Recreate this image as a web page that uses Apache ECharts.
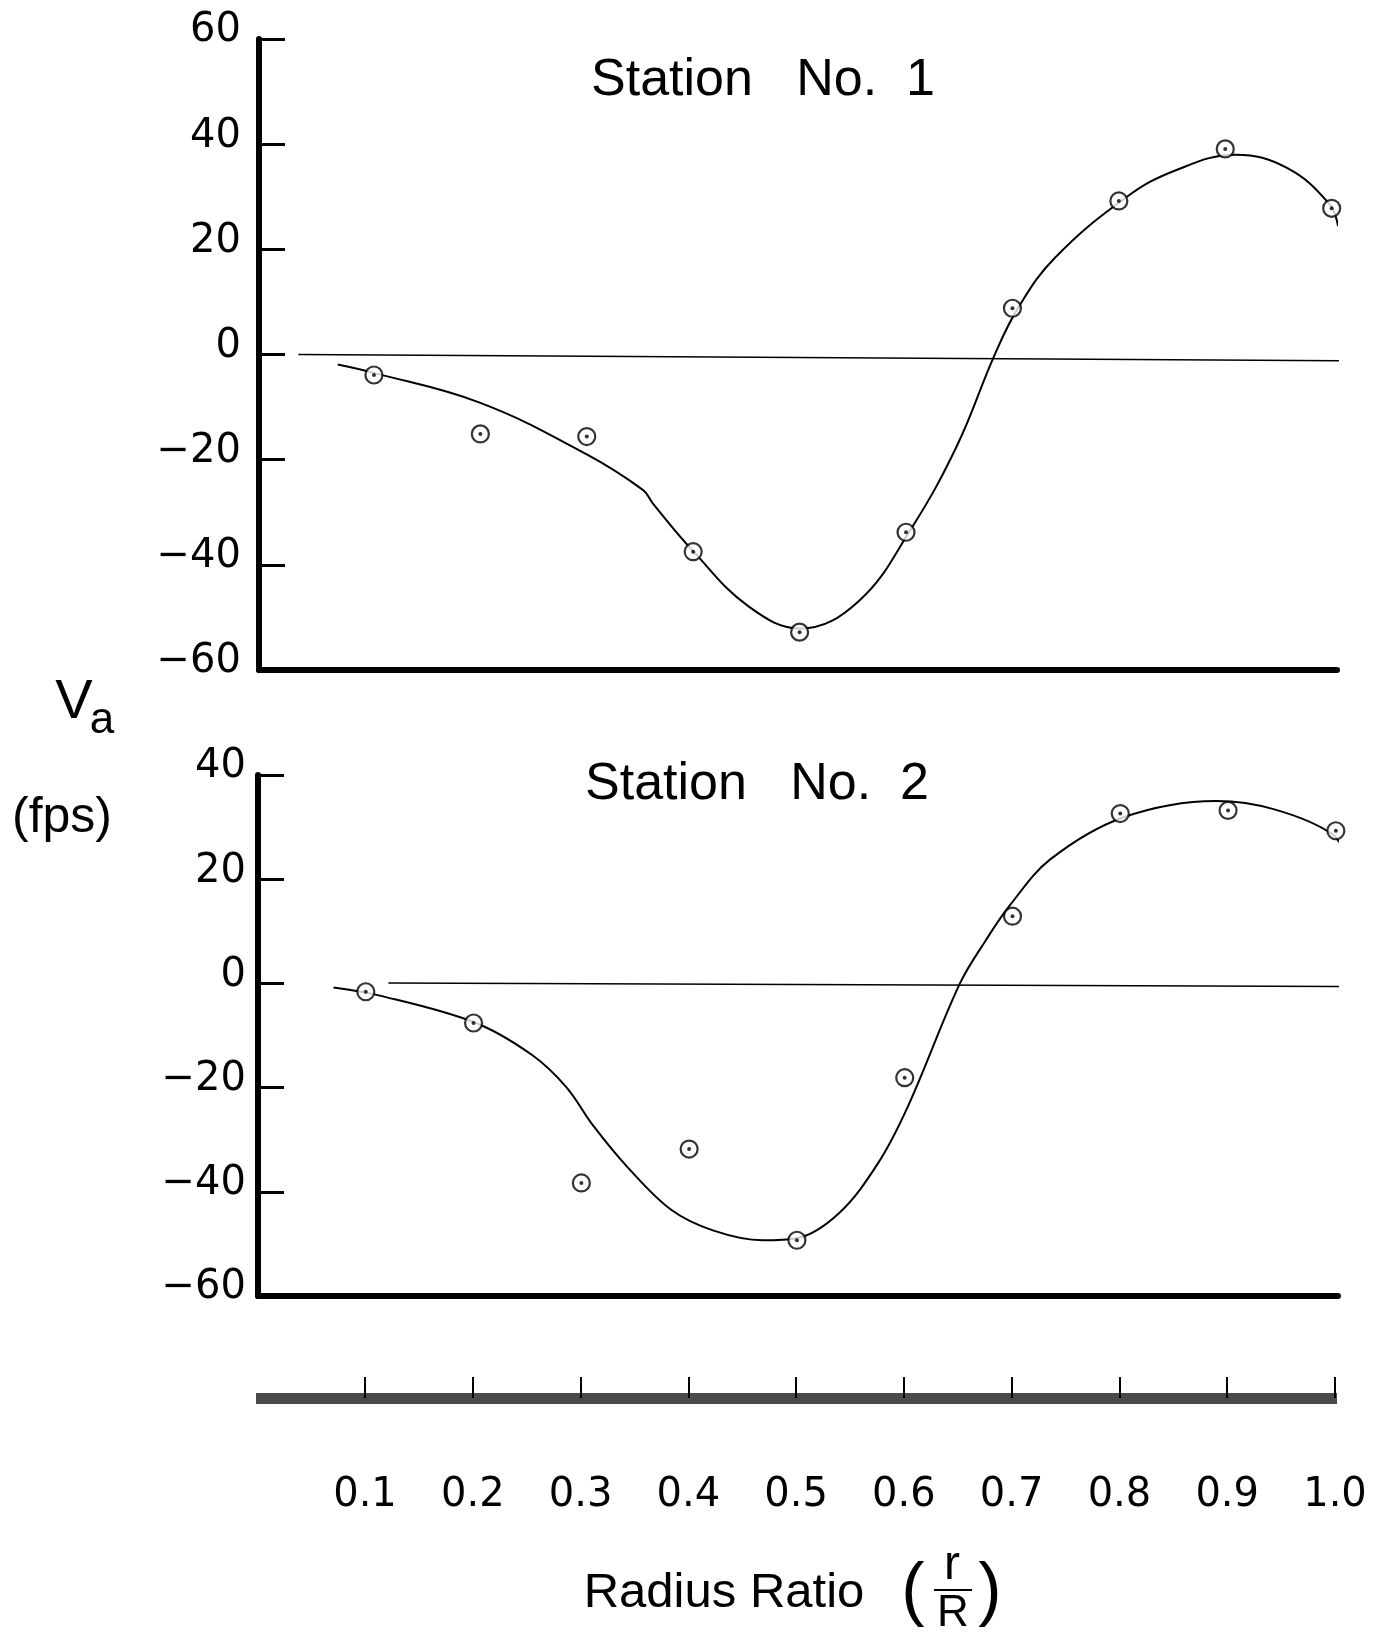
<!DOCTYPE html>
<html>
<head>
<meta charset="utf-8">
<title>Va - Radius Ratio</title>
<script src="https://cdn.jsdelivr.net/npm/echarts@6/dist/echarts.min.js"></script>
<style>
body { margin: 0; background: #fff; }
#Main { width: 1380px; height: 1632px; }
</style>
</head>
<body>
<div id="Main"></div>
<script>
// 半径比 r/R
var radius = [0.1, 0.2, 0.3, 0.4, 0.5, 0.6, 0.7, 0.8, 0.9, 1.0];
// 测点 Va (fps)
var station1 = [-3.9, -15.1, -15.6, -37.5, -52.8, -33.8, 8.8, 29.2, 39.1, 27.8];
var station2 = [-1.6, -7.6, -38.3, -31.8, -49.3, -18.1, 12.9, 32.6, 33.2, 29.3];
// 手绘曲线
var curve1X = [0.066, 0.1, 0.2, 0.3, 0.353, 0.362, 0.4, 0.452, 0.501, 0.555, 0.604, 0.648, 0.683, 0.706, 0.74, 0.807, 0.853, 0.91, 0.958, 0.998, 1.006];
var curve1Y = [-1.9, -3.5, -9.2, -19, -25.8, -28.3, -37.4, -47.9, -52.1, -47, -33.4, -17.3, -0.2, 9.1, 18.4, 29.9, 35.0, 38.0, 35.5, 28.6, 24.4];
var curve2X = [0.070, 0.112, 0.201, 0.254, 0.286, 0.311, 0.343, 0.383, 0.422, 0.468, 0.500, 0.539, 0.575, 0.603, 0.651, 0.675, 0.698, 0.735, 0.802, 0.889, 0.943, 0.997, 1.012];
var curve2Y = [-0.8, -2.3, -7.5, -13.7, -19.9, -27.3, -35.3, -43.4, -47.4, -49.3, -48.9, -44.1, -34.6, -23.6, -0.1, 8.2, 15.1, 23.8, 31.8, 35.0, 33.4, 28.6, 23.5];
// 零线
var zero1X = [0.029, 1.008];
var zero1Y = [0, -1.2];
var zero2X = [0.121, 1.003];
var zero2Y = [0.1, -0.6];
// 刻度标签
var xTickLabels = ['0.1', '0.2', '0.3', '0.4', '0.5', '0.6', '0.7', '0.8', '0.9', '1.0'];

function pairs(xs, ys) {
	var out = [];
	for (var i = 0; i < xs.length; i++) {
		out.push([xs[i], ys[i]]);
	}
	return out;
}

function yLabel(v) {
	return v < 0 ? '\u2212' + (-v) : '' + v;
}

var font = '"Liberation Sans", Arial, sans-serif';
var black = '#000';

function valueX(grid, min, max) {
	return {
		gridIndex: grid, type: 'value', min: min, max: max,
		axisLine: { onZero: false, lineStyle: { color: black, width: 6 } },
		axisTick: { show: false }, axisLabel: { show: false }, splitLine: { show: false }
	};
}

function valueY(grid, min, max, margin) {
	return {
		gridIndex: grid, type: 'value', min: min, max: max, interval: 20,
		axisLine: { show: true, onZero: false, lineStyle: { color: black, width: 6 } },
		axisTick: { show: true, inside: true, length: 26, lineStyle: { color: black, width: 3 } },
		axisLabel: {
			margin: margin, fontSize: 40, fontFamily: '"DejaVu Sans", sans-serif', color: black,
			verticalAlign: 'bottom', lineHeight: 16, formatter: yLabel
		},
		splitLine: { show: false }
	};
}

function markSeries(x, y, idx) {
	var data = pairs(x, y);
	return [{
		type: 'scatter', xAxisIndex: idx, yAxisIndex: idx, data: data, z: 3,
		symbol: 'circle', symbolSize: 17,
		itemStyle: { color: '#fff', borderColor: black, borderWidth: 2.2 }
	}, {
		type: 'scatter', xAxisIndex: idx, yAxisIndex: idx, data: data, z: 4,
		symbol: 'circle', symbolSize: 4, itemStyle: { color: black }
	}];
}

function lineSeries(x, y, idx, w, smooth) {
	return {
		type: 'line', xAxisIndex: idx, yAxisIndex: idx, data: pairs(x, y),
		symbol: 'none', smooth: smooth, clip: false, z: 2,
		lineStyle: { color: black, width: w }
	};
}

var myChart = echarts.init(document.getElementById('Main'));
myChart.setOption({
	backgroundColor: '#fff',
	animation: false,
	grid: [
		{ left: 259, right: 43, top: 39, height: 631 },
		{ left: 258, right: 42, top: 775, height: 521 },
		{ left: 256, right: 43, top: 1300, height: 98 },
		{ left: 365, right: 45, top: 1300, height: 98 }
	],
	xAxis: [
		valueX(0, -0.008, 1.005),
		valueX(1, 0, 1.002),
		{
			gridIndex: 2, type: 'value', min: 0, max: 1.002,
			axisLine: { lineStyle: { color: '#4a4a4a', width: 11, cap: 'butt' } },
			axisTick: { show: false }, axisLabel: { show: false }, splitLine: { show: false }
		},
		{
			gridIndex: 3, type: 'category', data: xTickLabels, boundaryGap: false,
			axisLine: { show: false },
			axisTick: { inside: true, length: 21, interval: 0, lineStyle: { color: black, width: 2 } },
			axisLabel: { interval: 0, margin: 78, fontSize: 40, fontFamily: '"DejaVu Sans", sans-serif', color: black },
			splitLine: { show: false }
		}
	],
	yAxis: [
		valueY(0, -60, 60, 18),
		valueY(1, -60, 40, 12),
		{ gridIndex: 2, type: 'value', show: false },
		{ gridIndex: 3, type: 'value', show: false }
	],
	series: [
		lineSeries(zero1X, zero1Y, 0, 1.5, false),
		lineSeries(curve1X, curve1Y, 0, 2, 0.4),
		lineSeries(zero2X, zero2Y, 1, 1.5, false),
		lineSeries(curve2X, curve2Y, 1, 2, 0.35)
	].concat(markSeries(radius, station1, 0), markSeries(radius, station2, 1)),
	graphic: [
		{ type: 'text', x: 763, y: 81, style: { text: 'Station   No.  1', font: '52px ' + font, fill: black, align: 'center', verticalAlign: 'middle' } },
		{ type: 'text', x: 757, y: 785, style: { text: 'Station   No.  2', font: '52px ' + font, fill: black, align: 'center', verticalAlign: 'middle' } },
		{ type: 'text', x: 74, y: 703, style: { text: 'V', font: '56px ' + font, fill: black, align: 'center', verticalAlign: 'middle' } },
		{ type: 'text', x: 102, y: 721, style: { text: 'a', font: '44px ' + font, fill: black, align: 'center', verticalAlign: 'middle' } },
		{ type: 'text', x: 62, y: 818, style: { text: '(fps)', font: '50px ' + font, fill: black, align: 'center', verticalAlign: 'middle' } },
		{ type: 'text', x: 724, y: 1593, style: { text: 'Radius Ratio', font: '49px ' + font, fill: black, align: 'center', verticalAlign: 'middle' } },
		{ type: 'text', x: 913, y: 1593, style: { text: '(', font: '70px ' + font, fill: black, align: 'center', verticalAlign: 'middle' } },
		{ type: 'text', x: 990, y: 1593, style: { text: ')', font: '70px ' + font, fill: black, align: 'center', verticalAlign: 'middle' } },
		{ type: 'text', x: 952, y: 1566, style: { text: 'r', font: '48px ' + font, fill: black, align: 'center', verticalAlign: 'middle' } },
		{ type: 'line', shape: { x1: 934, y1: 1590, x2: 972, y2: 1590 }, style: { stroke: black, lineWidth: 2 } },
		{ type: 'text', x: 953, y: 1614, style: { text: 'R', font: '44px ' + font, fill: black, align: 'center', verticalAlign: 'middle' } }
	]
});
</script>
</body>
</html>
